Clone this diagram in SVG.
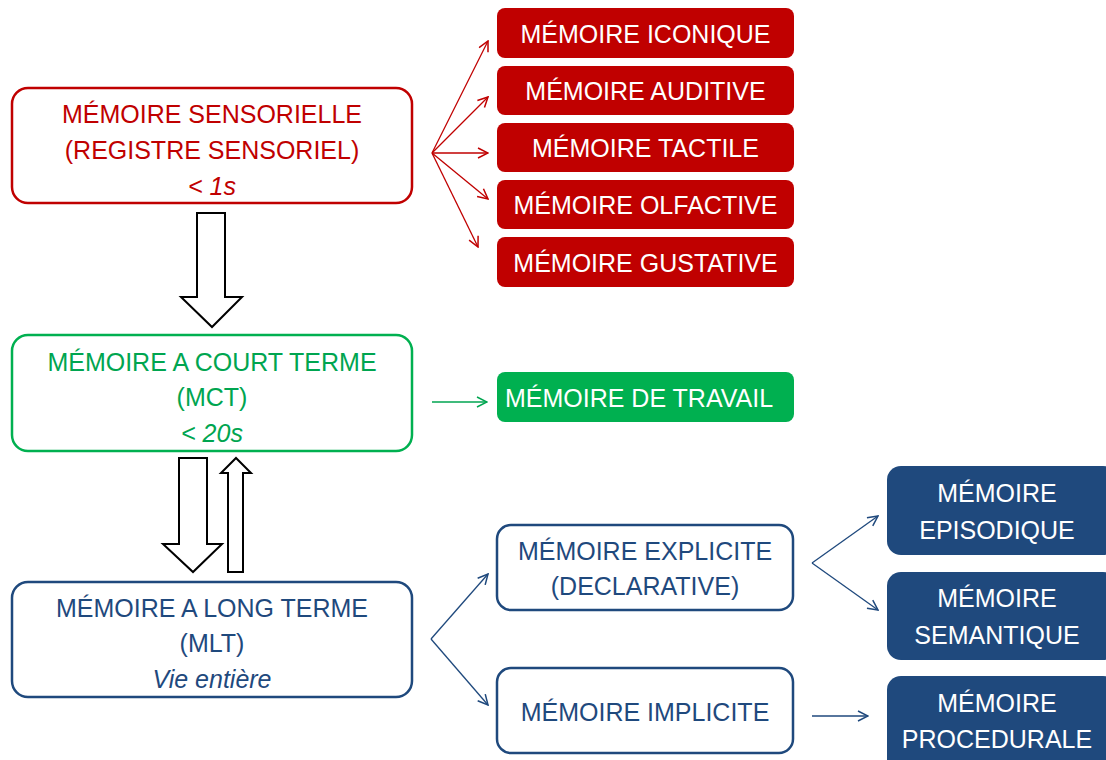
<svg xmlns="http://www.w3.org/2000/svg" width="1106" height="760" viewBox="0 0 1106 760">
  <style>
    text { font-family: "Liberation Sans", Arial, sans-serif; font-size: 25px; text-anchor: middle; }
    .it { font-style: italic; }
    .red { fill: #C00000; }
    .green { fill: #00A550; }
    .blue { fill: #1F497D; }
    .white { fill: #FFFFFF; }
    .frame { fill: #FFFFFF; stroke-width: 2.5; }
    .block { fill: #FFFFFF; stroke: #000000; stroke-width: 2; stroke-linejoin: miter; }
    .link { fill: none; stroke-width: 1.3; }
  </style>
  <defs>
    <marker id="hRed" viewBox="0 0 12 12" refX="11" refY="6" markerWidth="12" markerHeight="12" markerUnits="userSpaceOnUse" orient="auto">
      <path d="M1,1 L11,6 L1,11" fill="none" stroke="#C00000" stroke-width="1.5"/>
    </marker>
    <marker id="hGreen" viewBox="0 0 12 12" refX="11" refY="6" markerWidth="12" markerHeight="12" markerUnits="userSpaceOnUse" orient="auto">
      <path d="M1,1 L11,6 L1,11" fill="none" stroke="#00A550" stroke-width="1.5"/>
    </marker>
    <marker id="hBlue" viewBox="0 0 12 12" refX="11" refY="6" markerWidth="12" markerHeight="12" markerUnits="userSpaceOnUse" orient="auto">
      <path d="M1,1 L11,6 L1,11" fill="none" stroke="#1F497D" stroke-width="1.5"/>
    </marker>
  </defs>

  <rect width="1106" height="760" fill="#FFFFFF"/>

  <!-- connectors -->
  <g id="connectors">
    <!-- sensory fan -->
    <g class="link" stroke="#C00000">
      <line x1="432" y1="153" x2="488" y2="41" marker-end="url(#hRed)"/>
      <line x1="432" y1="153" x2="488" y2="97" marker-end="url(#hRed)"/>
      <line x1="432" y1="153" x2="488" y2="153" marker-end="url(#hRed)"/>
      <line x1="432" y1="153" x2="488" y2="199" marker-end="url(#hRed)"/>
      <line x1="432" y1="153" x2="478" y2="247" marker-end="url(#hRed)"/>
    </g>
    <line class="link" stroke="#00A550" x1="432" y1="402" x2="487" y2="402" marker-end="url(#hGreen)"/>
    <g class="link" stroke="#1F497D">
      <line x1="431" y1="639" x2="488" y2="574" marker-end="url(#hBlue)"/>
      <line x1="431" y1="639" x2="488" y2="705" marker-end="url(#hBlue)"/>
      <line x1="812" y1="563" x2="878" y2="516" marker-end="url(#hBlue)"/>
      <line x1="812" y1="563" x2="878" y2="610" marker-end="url(#hBlue)"/>
      <line x1="812" y1="716" x2="868" y2="716" marker-end="url(#hBlue)"/>
    </g>
    <!-- block arrows between stores -->
    <path class="block" d="M197,213 H225 V297 H242 L212,327 L181,297 H197 Z"/>
    <path class="block" d="M179,458 H207 V544 H222 L193,572 L163,544 H179 Z"/>
    <path class="block" d="M228,572 V473 H221 L236,458 L251,473 H243 V572 Z"/>
  </g>

  <!-- sensory memory -->
  <g id="sensorielle">
    <rect class="frame" x="12" y="88" width="400" height="115" rx="16" stroke="#C00000"/>
    <text class="red" x="212" y="123">MÉMOIRE SENSORIELLE</text>
    <text class="red" x="212" y="159">(REGISTRE SENSORIEL)</text>
    <text class="red it" x="212" y="195">&lt; 1s</text>
  </g>

  <g id="iconique">
    <rect x="497" y="8" width="297" height="50" rx="8" fill="#C00000"/>
    <text class="white" x="645.5" y="43">MÉMOIRE ICONIQUE</text>
  </g>
  <g id="auditive">
    <rect x="497" y="66" width="297" height="49" rx="8" fill="#C00000"/>
    <text class="white" x="645.5" y="100">MÉMOIRE AUDITIVE</text>
  </g>
  <g id="tactile">
    <rect x="497" y="123" width="297" height="49" rx="8" fill="#C00000"/>
    <text class="white" x="645.5" y="157">MÉMOIRE TACTILE</text>
  </g>
  <g id="olfactive">
    <rect x="497" y="180" width="297" height="49" rx="8" fill="#C00000"/>
    <text class="white" x="645.5" y="214">MÉMOIRE OLFACTIVE</text>
  </g>
  <g id="gustative">
    <rect x="497" y="237" width="297" height="50" rx="8" fill="#C00000"/>
    <text class="white" x="645.5" y="272">MÉMOIRE GUSTATIVE</text>
  </g>

  <!-- short-term memory -->
  <g id="mct">
    <rect class="frame" x="12" y="335" width="400" height="116" rx="16" stroke="#00B050"/>
    <text class="green" x="212" y="371">MÉMOIRE A COURT TERME</text>
    <text class="green" x="212" y="406">(MCT)</text>
    <text class="green it" x="212" y="442">&lt; 20s</text>
  </g>
  <g id="travail">
    <rect x="497" y="372" width="297" height="50" rx="8" fill="#00B050"/>
    <text class="white" x="639" y="407">MÉMOIRE DE TRAVAIL</text>
  </g>

  <!-- long-term memory -->
  <g id="mlt">
    <rect class="frame" x="12" y="582" width="400" height="115" rx="16" stroke="#1F497D"/>
    <text class="blue" x="212" y="617">MÉMOIRE A LONG TERME</text>
    <text class="blue" x="212" y="652">(MLT)</text>
    <text class="blue it" x="212" y="688">Vie entière</text>
  </g>
  <g id="explicite">
    <rect class="frame" x="497" y="525" width="296" height="85" rx="14" stroke="#1F497D"/>
    <text class="blue" x="645" y="560">MÉMOIRE EXPLICITE</text>
    <text class="blue" x="645" y="595">(DECLARATIVE)</text>
  </g>
  <g id="implicite">
    <rect class="frame" x="497" y="668" width="296" height="85" rx="14" stroke="#1F497D"/>
    <text class="blue" x="645" y="721">MÉMOIRE IMPLICITE</text>
  </g>
  <g id="episodique">
    <rect x="887" y="466" width="230" height="89" rx="14" fill="#1F497D"/>
    <text class="white" x="997" y="502">MÉMOIRE</text>
    <text class="white" x="997" y="539">EPISODIQUE</text>
  </g>
  <g id="semantique">
    <rect x="887" y="572" width="230" height="88" rx="14" fill="#1F497D"/>
    <text class="white" x="997" y="607">MÉMOIRE</text>
    <text class="white" x="997" y="644">SEMANTIQUE</text>
  </g>
  <g id="procedurale">
    <rect x="887" y="676" width="230" height="100" rx="14" fill="#1F497D"/>
    <text class="white" x="997" y="712">MÉMOIRE</text>
    <text class="white" x="997" y="748">PROCEDURALE</text>
  </g>
</svg>
